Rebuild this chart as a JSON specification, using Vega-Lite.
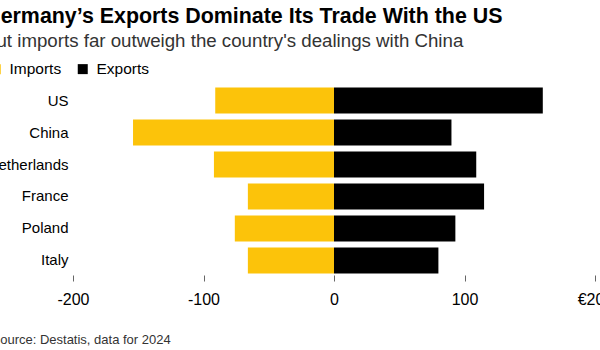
{
  "$schema": "https://vega.github.io/schema/vega-lite/v6.json",
  "width": 522,
  "height": 189,
  "autosize": {"type": "none"},
  "padding": {"left": 73, "top": 86, "right": 5, "bottom": 75},
  "background": "white",
  "title": {
    "text": "Germany’s Exports Dominate Its Trade With the US",
    "subtitle": "But imports far outweigh the country's dealings with China",
    "anchor": "start",
    "frame": "group",
    "dx": -89,
    "offset": 10,
    "font": "Liberation Sans",
    "fontSize": 21.4,
    "fontWeight": "bold",
    "color": "#000000",
    "subtitleFont": "Liberation Sans",
    "subtitleFontSize": 18.7,
    "subtitleColor": "#333333",
    "subtitlePadding": 5
  },
  "data": {
    "values": [
      {"country": "US", "flow": "Imports", "value": -91},
      {"country": "US", "flow": "Exports", "value": 160},
      {"country": "China", "flow": "Imports", "value": -154},
      {"country": "China", "flow": "Exports", "value": 90},
      {"country": "Netherlands", "flow": "Imports", "value": -92},
      {"country": "Netherlands", "flow": "Exports", "value": 109},
      {"country": "France", "flow": "Imports", "value": -66},
      {"country": "France", "flow": "Exports", "value": 115},
      {"country": "Poland", "flow": "Imports", "value": -76},
      {"country": "Poland", "flow": "Exports", "value": 93},
      {"country": "Italy", "flow": "Imports", "value": -66},
      {"country": "Italy", "flow": "Exports", "value": 80}
    ]
  },
  "mark": {"type": "bar"},
  "encoding": {
    "y": {
      "field": "country",
      "type": "nominal",
      "sort": ["US", "China", "Netherlands", "France", "Poland", "Italy"],
      "scale": {"paddingInner": 0.19, "paddingOuter": 0.05},
      "title": null,
      "axis": {
        "domain": false,
        "ticks": false,
        "labelFont": "Liberation Sans",
        "labelFontSize": 15,
        "labelColor": "#000000",
        "labelPadding": 5
      }
    },
    "x": {
      "field": "value",
      "type": "quantitative",
      "stack": null,
      "scale": {"domain": [-200, 200]},
      "title": "Source: Destatis, data for 2024",
      "axis": {
        "values": [-200, -100, 0, 100, 200],
        "labelExpr": "datum.value == 200 ? '€200' : replace(datum.label, '−', '-')",
        "grid": false,
        "domain": false,
        "tickColor": "#666666",
        "tickSize": 6,
        "tickWidth": 1,
        "labelFont": "Liberation Sans",
        "labelFontSize": 16,
        "labelColor": "#000000",
        "labelPadding": 10,
        "labelFlush": false,
        "labelOverlap": false,
        "titleFont": "Liberation Sans",
        "titleFontSize": 13,
        "titleFontWeight": "normal",
        "titleColor": "#333333",
        "titleAnchor": "start",
        "titleAlign": "left",
        "titleBaseline": "alphabetic",
        "titleX": -82,
        "titleY": 68
      }
    },
    "color": {
      "field": "flow",
      "type": "nominal",
      "scale": {"domain": ["Imports", "Exports"], "range": ["#FCC30A", "#000000"]},
      "legend": {
        "title": null,
        "orient": "none",
        "legendX": -85,
        "legendY": -25,
        "direction": "horizontal",
        "symbolType": "square",
        "symbolSize": 100,
        "symbolStrokeWidth": 0,
        "labelFont": "Liberation Sans",
        "labelFontSize": 15.5,
        "labelColor": "#000000",
        "labelOffset": 6,
        "columnPadding": 13
      }
    }
  },
  "config": {"view": {"stroke": null}}
}
